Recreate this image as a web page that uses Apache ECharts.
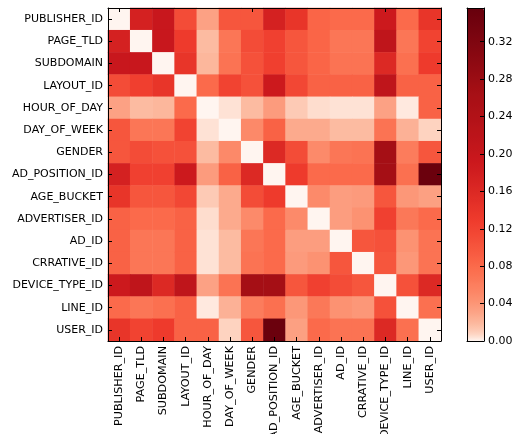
<!DOCTYPE html>
<html>
<head>
<meta charset="utf-8">
<script src="https://cdn.jsdelivr.net/npm/echarts@6/dist/echarts.min.js"></script>
<style>html,body{margin:0;padding:0;background:#fff;}#c{width:523px;height:434px;}</style>
</head>
<body>
<div id="c"></div>
<script>
const categories = ['PUBLISHER_ID','PAGE_TLD','SUBDOMAIN','LAYOUT_ID','HOUR_OF_DAY','DAY_OF_WEEK','GENDER','AD_POSITION_ID','AGE_BUCKET','ADVERTISER_ID','AD_ID','CRRATIVE_ID','DEVICE_TYPE_ID','LINE_ID','USER_ID'];
const rowPublisher  = [0, .175, .197, .11, .032, .10, .10, .175, .14, .085, .08, .08, .19, .08, .14];
const rowPageTld    = [.175, 0, .197, .13, .018, .067, .11, .123, .10, .085, .067, .067, .214, .067, .12];
const rowSubdomain  = [.197, .197, 0, .14, .02, .07, .105, .125, .10, .085, .07, .07, .16, .073, .13];
const rowLayout     = [.11, .125, .14, 0, .08, .12, .105, .19, .115, .087, .087, .087, .214, .087, .087];
const rowHour       = [.032, .018, .02, .08, 0, .004, .018, .036, .011, .005, .004, .004, .032, .0025, .087];
const rowDay        = [.10, .067, .067, .12, .004, 0, .05, .087, .027, .027, .018, .018, .07, .023, .008];
const rowGender     = [.10, .11, .105, .105, .018, .05, 0, .16, .11, .049, .067, .07, .267, .062, .10];
const rowAdPosition = [.175, .123, .123, .19, .036, .087, .16, 0, .13, .08, .08, .08, .267, .073, .35];
const rowAgeBucket  = [.14, .10, .10, .115, .011, .027, .11, .13, 0, .049, .035, .037, .10, .039, .033];
const rowAdvertiser = [.087, .08, .08, .087, .005, .027, .049, .08, .049, 0, .035, .043, .123, .065, .08];
const rowAdId       = [.087, .067, .067, .087, .004, .018, .067, .08, .035, .035, 0, .10, .105, .043, .07];
const rowCreative   = [.087, .067, .067, .087, .004, .018, .07, .08, .037, .043, .10, 0, .10, .039, .07];
const rowDevice     = [.19, .214, .16, .214, .032, .07, .267, .267, .10, .123, .11, .10, 0, .105, .16];
const rowLine       = [.08, .067, .073, .087, .0025, .023, .062, .073, .039, .065, .043, .039, .105, 0, .073];
const rowUser       = [.14, .12, .13, .087, .087, .008, .10, .35, .033, .08, .07, .07, .16, .073, 0];
const matrixRows = [rowPublisher,rowPageTld,rowSubdomain,rowLayout,rowHour,rowDay,rowGender,rowAdPosition,rowAgeBucket,rowAdvertiser,rowAdId,rowCreative,rowDevice,rowLine,rowUser];
const colorbarTicks = [0, 0.04, 0.08, 0.12, 0.16, 0.20, 0.24, 0.28, 0.32];
const vMax = 0.356;

const data = [];
matrixRows.forEach((row, y) => row.forEach((v, x) => data.push([x, y, v])));

// Reds colormap with a power normalisation
const REDS = ['#fff5f0','#fee0d2','#fcbba1','#fc9272','#fb6a4a','#ef3b2c','#cb181d','#a50f15','#67000d'];
function hex2rgb(h){return [parseInt(h.slice(1,3),16),parseInt(h.slice(3,5),16),parseInt(h.slice(5,7),16)];}
function reds(t){
  t = Math.max(0, Math.min(1, t));
  const p = t * (REDS.length - 1), i = Math.min(Math.floor(p), REDS.length - 2), f = p - i;
  const a = hex2rgb(REDS[i]), b = hex2rgb(REDS[i+1]);
  return 'rgb(' + a.map((c,k)=>Math.round(c + (b[k]-c)*f)).join(',') + ')';
}
const cmap = [];
for (let i = 0; i <= 60; i++) cmap.push(reds(Math.pow(i/60, 0.464)));

const font = 'DejaVu Sans';
const G = {left:108, top:8, width:333, height:333};
const CB = {left:467, top:8, width:17, height:333};

const chart = echarts.init(document.getElementById('c'));
chart.setOption({
  animation:false,
  backgroundColor:'#fff',
  grid:[
    {left:G.left, top:G.top, width:G.width, height:G.height, show:false, containLabel:false, outerBoundsMode:'none'},
    {left:CB.left, top:CB.top, width:CB.width, height:CB.height, show:false, containLabel:false, outerBoundsMode:'none'}
  ],
  xAxis:[
    {type:'category', data:categories, gridIndex:0, position:'bottom', z:10,
     axisLine:{show:true, lineStyle:{color:'#000', width:1}},
     axisTick:{show:true, inside:true, alignWithLabel:true, length:4, lineStyle:{color:'#000'}},
     axisLabel:{rotate:90, color:'#000', fontFamily:font, fontSize:11.2, margin:5, interval:0},
     splitLine:{show:false}},
    {type:'category', data:categories, gridIndex:0, position:'top', z:10,
     axisLine:{show:true, lineStyle:{color:'#000', width:1}},
     axisTick:{show:true, inside:true, alignWithLabel:true, length:4, lineStyle:{color:'#000'}},
     axisLabel:{show:false}},
    {type:'value', gridIndex:1, min:0, max:1, show:true,
     axisLine:{show:true, onZero:false, lineStyle:{color:'#000'}}, axisTick:{show:false}, axisLabel:{show:false}, splitLine:{show:false}, z:10},
    {type:'value', gridIndex:1, min:0, max:1, position:'top', show:true,
     axisLine:{show:true, onZero:false, lineStyle:{color:'#000'}}, axisTick:{show:false}, axisLabel:{show:false}, splitLine:{show:false}, z:10}
  ],
  yAxis:[
    {type:'category', data:categories, gridIndex:0, inverse:true, position:'left', z:10,
     axisLine:{show:true, lineStyle:{color:'#000', width:1}},
     axisTick:{show:true, inside:true, alignWithLabel:true, length:4, lineStyle:{color:'#000'}},
     axisLabel:{color:'#000', fontFamily:font, fontSize:11, margin:5, interval:0},
     splitLine:{show:false}},
    {type:'category', data:categories, gridIndex:0, inverse:true, position:'right', z:10,
     axisLine:{show:true, lineStyle:{color:'#000', width:1}},
     axisTick:{show:true, inside:true, alignWithLabel:true, length:4, lineStyle:{color:'#000'}},
     axisLabel:{show:false}},
    {type:'value', gridIndex:1, min:0, max:vMax, interval:0.04, position:'right', z:10,
     axisLine:{show:true, onZero:false, lineStyle:{color:'#000'}},
     axisTick:{show:true, inside:true, length:4, lineStyle:{color:'#000'}, customValues: colorbarTicks},
     axisLabel:{color:'#000', fontFamily:font, fontSize:11, margin:4,
       customValues: colorbarTicks, formatter:v=>v.toFixed(2)},
     splitLine:{show:false}},
    {type:'value', gridIndex:1, min:0, max:vMax, position:'left', z:10,
     axisLine:{show:true, onZero:false, lineStyle:{color:'#000'}},
     axisTick:{show:false}, axisLabel:{show:false}, splitLine:{show:false}}
  ],
  visualMap:{
    type:'continuous', min:0, max:vMax, show:true, calculable:false,
    left:CB.left, top:CB.top, itemWidth:CB.width, itemHeight:CB.height,
    padding:0, text:null, showLabel:false, seriesIndex:0,
    textStyle:{color:'rgba(0,0,0,0)', fontSize:1},
    inRange:{color:cmap}
  },
  series:[{
    type:'heatmap', xAxisIndex:0, yAxisIndex:0, data:data,
    itemStyle:{borderWidth:0}, emphasis:{disabled:true}, progressive:0
  }]
});
</script>
</body>
</html>
